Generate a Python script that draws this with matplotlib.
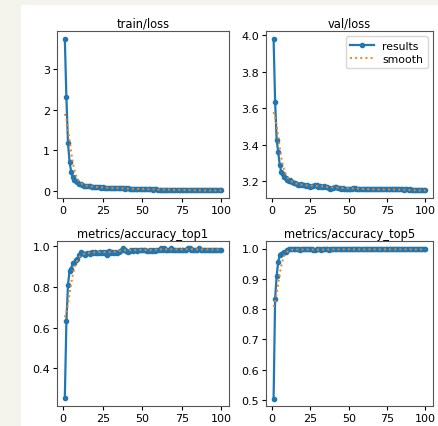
import numpy as np
import matplotlib
import matplotlib.pyplot as plt
from matplotlib.patches import Rectangle

matplotlib.use("Agg")

epochs = list(range(1, 101))

train_loss = [3.75, 2.30, 1.18, 0.72, 0.47, 0.33, 0.27, 0.25, 0.21, 0.18,
              0.16, 0.14, 0.13, 0.12, 0.12, 0.11, 0.11, 0.10, 0.10, 0.10,
              0.09, 0.09, 0.09, 0.08, 0.09, 0.08, 0.08, 0.07, 0.08, 0.07,
              0.07, 0.07, 0.06, 0.07, 0.07, 0.06, 0.06, 0.06, 0.05, 0.06,
              0.06, 0.05, 0.05, 0.05, 0.05, 0.05, 0.04, 0.05, 0.05, 0.04,
              0.04, 0.04, 0.04, 0.04, 0.04, 0.04, 0.03, 0.04, 0.04, 0.03,
              0.03, 0.03, 0.03, 0.03, 0.03, 0.03, 0.03, 0.02, 0.03, 0.02,
              0.02, 0.02, 0.02, 0.02, 0.02, 0.02, 0.02, 0.02, 0.02, 0.02,
              0.02, 0.02, 0.01, 0.02, 0.01, 0.01, 0.01, 0.01, 0.01, 0.01,
              0.01, 0.01, 0.01, 0.01, 0.01, 0.01, 0.01, 0.01, 0.01, 0.01]

val_loss = [3.98, 3.635, 3.425, 3.36, 3.29, 3.25, 3.24, 3.225, 3.22, 3.205,
            3.20, 3.205, 3.195, 3.19, 3.19, 3.185, 3.18, 3.18, 3.185, 3.18,
            3.18, 3.175, 3.18, 3.175, 3.17, 3.175, 3.175, 3.18, 3.18, 3.17,
            3.175, 3.17, 3.17, 3.175, 3.17, 3.17, 3.165, 3.16, 3.165, 3.165,
            3.17, 3.17, 3.165, 3.165, 3.16, 3.165, 3.16, 3.16, 3.16, 3.16,
            3.16, 3.16, 3.165, 3.165, 3.16, 3.16, 3.16, 3.16, 3.155, 3.16,
            3.16, 3.155, 3.16, 3.155, 3.155, 3.155, 3.155, 3.155, 3.155, 3.155,
            3.155, 3.155, 3.155, 3.155, 3.155, 3.155, 3.155, 3.155, 3.155, 3.155,
            3.155, 3.155, 3.155, 3.155, 3.155, 3.15, 3.155, 3.155, 3.15, 3.155,
            3.15, 3.15, 3.15, 3.15, 3.15, 3.15, 3.15, 3.15, 3.15, 3.15]

acc_top1 = [0.25, 0.63, 0.81, 0.88, 0.89, 0.92, 0.92, 0.935, 0.94, 0.96,
            0.975, 0.97, 0.965, 0.96, 0.97, 0.97, 0.965, 0.975, 0.97, 0.975,
            0.97, 0.97, 0.975, 0.97, 0.975, 0.97, 0.975, 0.96, 0.98, 0.97,
            0.975, 0.97, 0.975, 0.97, 0.975, 0.98, 0.985, 0.99, 0.985, 0.98,
            0.975, 0.98, 0.985, 0.98, 0.985, 0.985, 0.98, 0.985, 0.985, 0.985,
            0.985, 0.985, 0.98, 0.98, 0.985, 0.98, 0.985, 0.98, 0.985, 0.985,
            0.985, 0.99, 0.985, 0.99, 0.985, 0.985, 0.985, 0.99, 0.985, 0.985,
            0.985, 0.985, 0.985, 0.985, 0.985, 0.985, 0.985, 0.985, 0.99, 0.99,
            0.985, 0.985, 0.985, 0.985, 0.985, 0.99, 0.985, 0.985, 0.985, 0.985,
            0.985, 0.985, 0.985, 0.985, 0.985, 0.985, 0.985, 0.985, 0.985, 0.985]

acc_top5 = [0.505, 0.835, 0.91, 0.955, 0.98, 0.982, 0.985, 0.99, 0.99, 0.995,
            1.0, 0.997, 0.997, 0.997, 0.997, 0.997, 0.997, 0.995, 0.997, 0.997,
            0.997, 0.997, 0.997, 0.997, 0.997, 0.997, 0.995, 0.995, 0.997, 0.997,
            0.997, 0.995, 0.997, 0.997, 0.997, 0.997, 0.995, 0.997, 0.997, 0.997,
            0.997, 0.997, 0.997, 0.997, 0.997, 0.997, 0.997, 0.997, 0.997, 0.997,
            0.997, 0.997, 0.997, 0.997, 0.997, 0.997, 0.997, 0.997, 0.997, 0.997,
            0.997, 0.997, 0.997, 0.997, 0.997, 0.997, 0.997, 0.997, 0.997, 0.997,
            0.997, 0.997, 0.997, 0.997, 0.997, 0.997, 0.997, 0.997, 0.997, 0.997,
            0.997, 0.997, 0.997, 0.997, 0.997, 0.997, 0.997, 0.997, 0.997, 0.997,
            0.997, 0.997, 0.997, 0.997, 0.997, 0.997, 0.997, 0.997, 0.997, 0.997]

titles = ["train/loss", "val/loss", "metrics/accuracy_top1", "metrics/accuracy_top5"]
series = [train_loss, val_loss, acc_top1, acc_top5]


def smooth(y, sigma=3):
    # gaussian smoothing of the results, edges mirrored
    y = np.asarray(y, dtype=float)
    r = int(4 * sigma + 0.5)
    k = np.exp(-0.5 * (np.arange(-r, r + 1) / sigma) ** 2)
    k /= k.sum()
    yp = np.pad(y, r, mode="symmetric")
    return np.convolve(yp, k, mode="valid")


W, H = 439, 427
fig = plt.figure(figsize=(W / 100, H / 100), dpi=100, facecolor="#f4f3ec")
fig.patches.append(Rectangle((21 / W, 0), 1, 1 - 6 / H, transform=fig.transFigure,
                             facecolor="white", edgecolor="none", zorder=-10))

# axes boxes in pixels: left, top, right, bottom
boxes = [(57, 32, 229, 199), (266, 32, 433, 199),
         (57, 242, 229, 407), (266, 242, 433, 407)]

for i, (title, y) in enumerate(zip(titles, series)):
    l, t, r, b = boxes[i]
    ax = fig.add_axes([l / W, 1 - b / H, (r - l) / W, (b - t) / H])
    ax.plot(epochs, y, marker=".", linewidth=1.6, markersize=6, label="results", color="#1f77b4")
    ax.plot(epochs, smooth(y), ":", linewidth=1.4, label="smooth", color="#ff7f0e")
    ax.set_title(title, fontsize=8.3, pad=3)
    ax.tick_params(labelsize=8, length=3, pad=2)
    for s in ax.spines.values():
        s.set_edgecolor("#555555")
    if i == 1:
        ax.legend(fontsize=7.8, loc="upper right", handlelength=2.2, borderpad=0.4, labelspacing=0.3)

fig.savefig("out.png", dpi=100, facecolor=fig.get_facecolor())
